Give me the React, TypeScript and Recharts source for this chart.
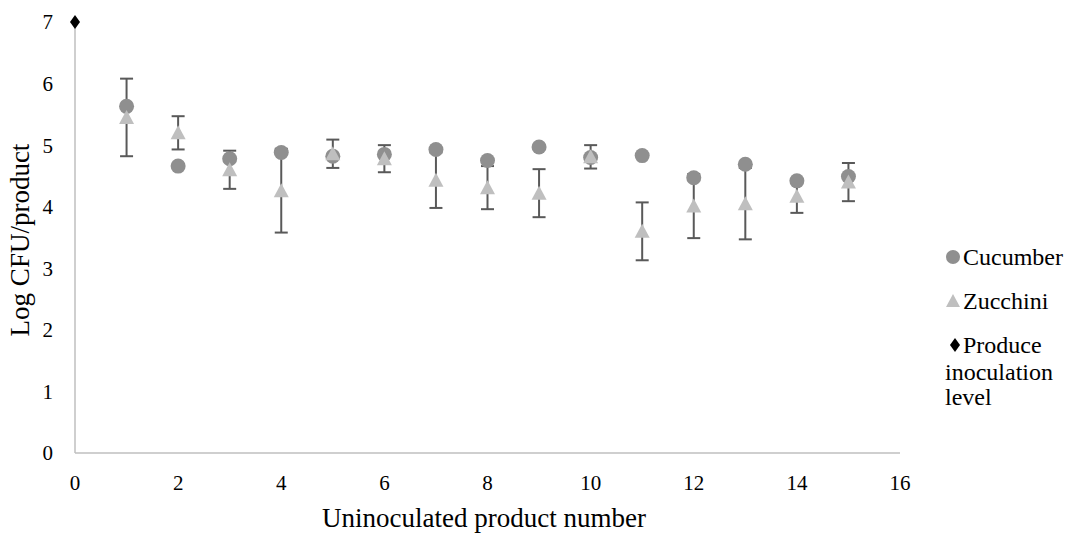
import React from "react";
import { ScatterChart, Scatter, XAxis, YAxis, ErrorBar } from "recharts";

const FONT = "'Liberation Serif', 'Times New Roman', serif";
const AXIS_LINE = "#bfbfbf";
const CUCUMBER = "#8f8f8f";
const ZUCCHINI = "#bfbfbf";
const ERR = "#595959";

// product number 1..15
const productNumbers = [1, 2, 3, 4, 5, 6, 7, 8, 9, 10, 11, 12, 13, 14, 15];
const cucumberLog = [5.63, 4.66, 4.78, 4.88, 4.82, 4.85, 4.93, 4.75, 4.97, 4.8, 4.83, 4.47, 4.69, 4.42, 4.49];
const zucchiniLog = [5.45, 5.2, 4.6, 4.26, 4.86, 4.78, 4.43, 4.31, 4.22, 4.81, 3.6, 4.01, 4.05, 4.17, 4.4];
const zucchiniErr = [0.63, 0.27, 0.31, 0.68, 0.23, 0.22, 0.45, 0.35, 0.39, 0.19, 0.47, 0.52, 0.58, 0.27, 0.31];
const inoculationX = [0];
const inoculationLog = [7];

const xTicks = [0, 2, 4, 6, 8, 10, 12, 14, 16];
const yTicks = [0, 1, 2, 3, 4, 5, 6, 7];

const cucumberData = productNumbers.map((x, i) => ({ x, y: cucumberLog[i] }));
const zucchiniData = productNumbers.map((x, i) => ({ x, y: zucchiniLog[i], err: zucchiniErr[i] }));
const inoculationData = inoculationX.map((x, i) => ({ x, y: inoculationLog[i] }));

const Circle = (p: any) => <circle cx={p.cx} cy={p.cy} r={7.5} fill={CUCUMBER} />;
const Triangle = (p: any) => (
  <path d={`M${p.cx},${p.cy - 7.5} L${p.cx + 7.5},${p.cy + 6.5} L${p.cx - 7.5},${p.cy + 6.5} Z`} fill={ZUCCHINI} />
);
const Diamond = (p: any) => (
  <path d={`M${p.cx},${p.cy - 7} L${p.cx + 5},${p.cy} L${p.cx},${p.cy + 7} L${p.cx - 5},${p.cy} Z`} fill="#000" />
);
const Nothing = () => <g />;

const tickStyle = { fill: "#000", fontSize: 21, fontFamily: FONT };
const legendText = { fontFamily: FONT, fontSize: 24, fill: "#000" };
const W = 1068;
const H = 533;
const MARGIN = { top: 22, right: 168, left: 0, bottom: 0 };

// Both layers share the same axes so the scales line up; only the bottom one shows them.
// The error bars sit in the bottom layer so the markers cover them, as in the original.
function Frame({ show, children }: { show: boolean; children: React.ReactNode }) {
  return (
    <ScatterChart width={W} height={H} margin={MARGIN}>
      <XAxis
        type="number" dataKey="x" domain={[0, 16]} ticks={xTicks} height={80}
        stroke={show ? AXIS_LINE : "none"} strokeWidth={1.5} tickLine={false} tickSize={0} tickMargin={22}
        tick={show ? tickStyle : false}
        label={show ? {
          content: () => (
            <text x={484} y={527} textAnchor="middle" style={{ fontFamily: FONT, fontSize: 27, fill: "#000" }}>
              Uninoculated product number
            </text>
          ),
        } : undefined}
      />
      <YAxis
        type="number" dataKey="y" domain={[0, 7]} ticks={yTicks} width={75}
        stroke={show ? AXIS_LINE : "none"} strokeWidth={1.5} tickLine={false} tickSize={0} tickMargin={22}
        tick={show ? tickStyle : false}
        label={show ? {
          content: () => (
            <text x={20} y={240} transform="rotate(-90 20 240)" textAnchor="middle" dominantBaseline="central"
              style={{ fontFamily: FONT, fontSize: 27, fill: "#000" }}>
              Log CFU/product
            </text>
          ),
        } : undefined}
      />
      {children}
    </ScatterChart>
  );
}

export default function App() {
  return (
    <div style={{ position: "absolute", left: 0, top: 0, width: W, height: H, background: "#fff" }}>
      <div style={{ position: "absolute", left: 0, top: 0 }}>
        <Frame show>
          <Scatter data={zucchiniData} shape={Nothing} isAnimationActive={false} legendType="none">
            <ErrorBar dataKey="err" direction="y" width={6.5} stroke={ERR} strokeWidth={2} isAnimationActive={false} />
          </Scatter>
        </Frame>
      </div>
      <div style={{ position: "absolute", left: 0, top: 0 }}>
        <Frame show={false}>
          <Scatter name="Cucumber" data={cucumberData} shape={Circle} isAnimationActive={false} />
          <Scatter name="Zucchini" data={zucchiniData} shape={Triangle} isAnimationActive={false} />
          <Scatter name="Produce inoculation level" data={inoculationData} shape={Diamond} isAnimationActive={false} />
        </Frame>
      </div>
      <svg width={W} height={H} style={{ position: "absolute", left: 0, top: 0 }}>
        <circle cx={953} cy={257} r={7} fill={CUCUMBER} />
        <text x={963} y={265} style={legendText}>Cucumber</text>
        <path d="M953,294 L960,307 L946,307 Z" fill={ZUCCHINI} />
        <text x={963} y={309} style={legendText}>Zucchini</text>
        <path d="M955,338 L960,345 L955,352 L950,345 Z" fill="#000" />
        <text x={963} y={353} style={legendText}>Produce</text>
        <text x={945} y={380} style={legendText}>inoculation</text>
        <text x={945} y={405} style={legendText}>level</text>
      </svg>
    </div>
  );
}
